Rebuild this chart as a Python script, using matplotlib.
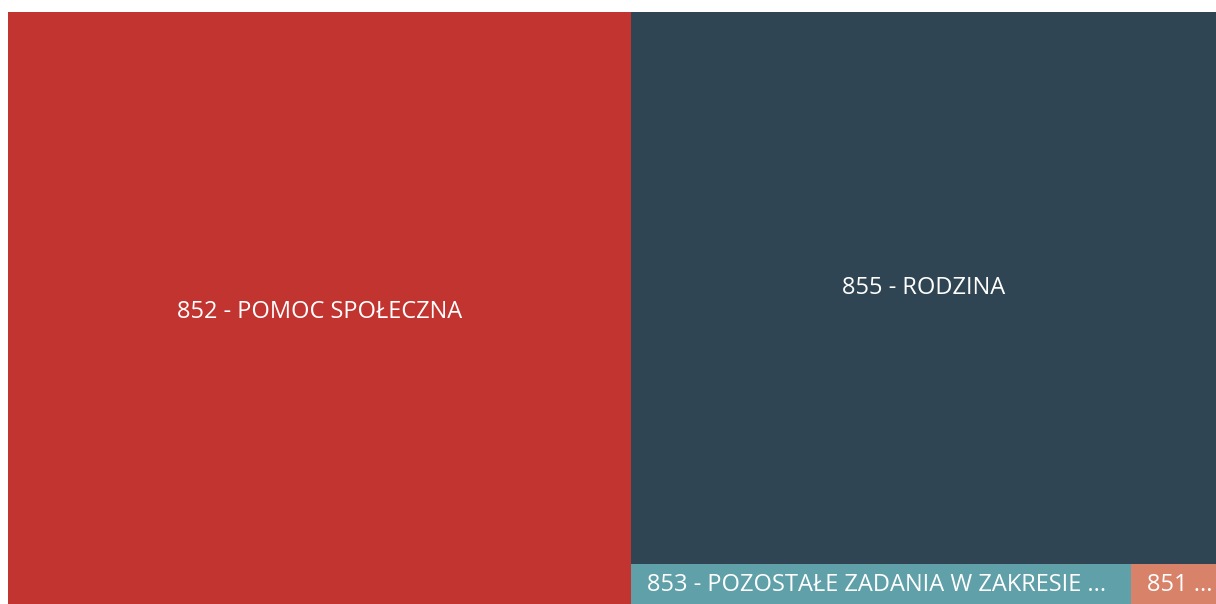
import matplotlib
matplotlib.use("Agg")
import matplotlib.pyplot as plt
from matplotlib.patches import Rectangle

# Budget sections (values in mln zł)
categories = [
    "852 - POMOC SPOŁECZNA",
    "855 - RODZINA",
    "853 - POZOSTAŁE ZADANIA W ZAKRESIE POLITYKI SPOŁECZNEJ",
    "851 - OCHRONA ZDROWIA",
]
values = [36.9, 32.3, 2.0, 0.34]
colors = ["#C1342F", "#2F4553", "#5FA0A9", "#D9826A"]

W, H = 1208.0, 592.0
plt.rcParams["font.family"] = ["Open Sans", "DejaVu Sans"]
FS = 17

fig = plt.figure(figsize=(12.16, 6.04), dpi=100)
fig.patch.set_facecolor("white")
ax = fig.add_axes([8 / 1216, 0, W / 1216, H / 604])
ax.set_xlim(0, W)
ax.set_ylim(H, 0)
ax.axis("off")

# Layout: first item takes a full-height column, the rest are stacked
# with the largest on top and the small ones sharing a bottom row.
total = sum(values)
w0 = W * values[0] / total
rects = [(0, 0, w0, H)]
rest = sum(values[1:])
rw = W - w0
h1 = H * values[1] / rest
rects.append((w0, 0, rw, h1))
row = sum(values[2:])
x = w0
for v in values[2:]:
    wv = rw * v / row
    rects.append((x, h1, wv, H - h1))
    x += wv

fig.canvas.draw()
renderer = fig.canvas.get_renderer()


def fit_label(text_obj, full, max_w):
    words = full.split(" ")
    text_obj.set_text(full)
    if text_obj.get_window_extent(renderer).width <= max_w:
        return
    for n in range(len(words) - 1, 0, -1):
        cand = " ".join(words[:n]).rstrip(" -") + " ..."
        text_obj.set_text(cand)
        if text_obj.get_window_extent(renderer).width <= max_w:
            return


for i, ((rx, ry, rw_, rh), name, col) in enumerate(zip(rects, categories, colors)):
    ax.add_patch(Rectangle((rx, ry), rw_, rh, facecolor=col, edgecolor="none"))
    if rh > 100:
        t = ax.text(rx + rw_ / 2, ry + rh / 2 + (4 if i == 0 else 0), name,
                    color="white", fontsize=FS, ha="center", va="center")
    else:
        t = ax.text(rx + 16, ry + rh / 2 + 1, name, color="white",
                    fontsize=FS, ha="left", va="center")
    fit_label(t, name, rw_ - 22)

fig.savefig("out.png", dpi=100, facecolor="white")
